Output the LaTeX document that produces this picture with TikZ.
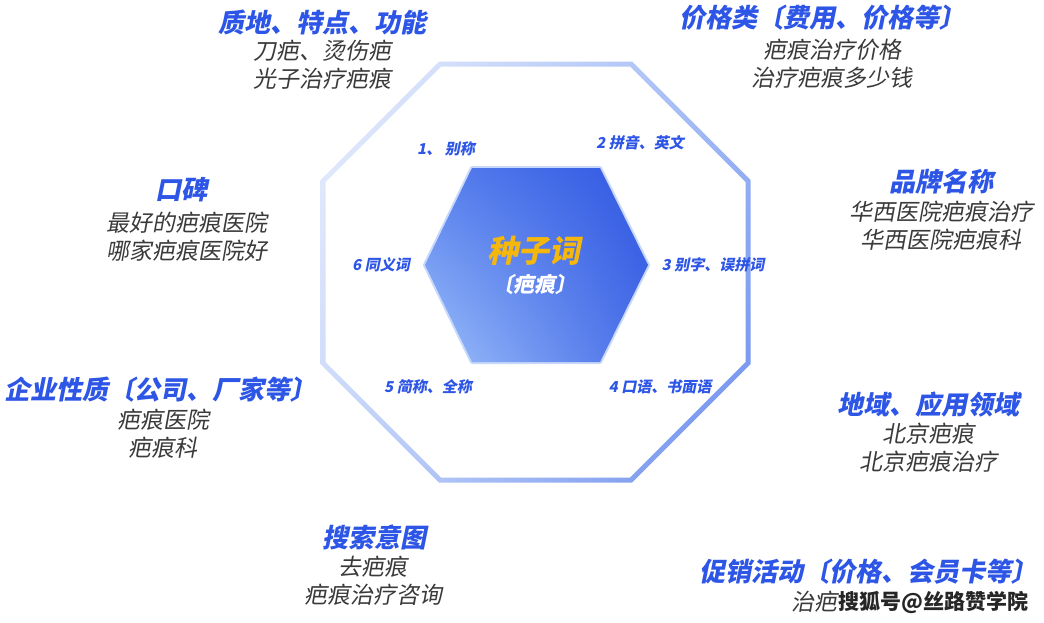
\documentclass[tikz,border=0pt]{standalone}
\usepackage{fontspec}
\usetikzlibrary{shadings}
\setmainfont{Noto Sans CJK SC}
\newfontfamily\hdfont{Noto Sans CJK SC}[FakeSlant=0.2]
\newfontfamily\bdfont{Noto Sans CJK SC}[FakeSlant=0.18]
\definecolor{hblue}{HTML}{2D55E6}
\definecolor{bgray}{HTML}{3A3A3A}
\definecolor{seedy}{HTML}{F6B70C}
\definecolor{octUL}{RGB}{232,239,252}
\definecolor{octUR}{RGB}{160,184,245}
\definecolor{octLL}{RGB}{200,215,249}
\definecolor{octLR}{RGB}{108,142,238}
\definecolor{hexUL}{RGB}{88,128,237}
\definecolor{hexUR}{RGB}{48,86,226}
\definecolor{hexLL}{RGB}{156,192,250}
\definecolor{hexLR}{RGB}{72,110,232}
\definecolor{hexglow}{RGB}{200,216,251}
\begin{document}
\begin{tikzpicture}[x=1pt,y=-1pt,
  hd/.style={font=\hdfont\bfseries\fontsize{26}{30}\selectfont, text=hblue, inner sep=0pt},
  bd/.style={font=\bdfont\fontsize{23}{28}\selectfont, text=bgray, align=center, inner sep=0pt},
  lbl/.style={font=\hdfont\bfseries\fontsize{15}{17}\selectfont, text=hblue, inner sep=0pt},
  wm/.style={font=\bfseries\fontsize{21}{24}\selectfont, text=black!85, inner sep=0pt}]
\useasboundingbox (0,0) rectangle (1044,622);
\fill[white] (0,0) rectangle (1044,622);
% octagon ring with gradient
\shade[even odd rule, upper left=octUL, upper right=octUR, lower left=octLL, lower right=octLR]
  (439,61.5) -- (632,61.5) -- (750.5,180) -- (750.5,364) -- (632,482.5) -- (439,482.5) -- (320.5,364) -- (320.5,180) -- cycle
  (441,66.5) -- (630,66.5) -- (745.5,182) -- (745.5,362) -- (630,477.5) -- (441,477.5) -- (325.5,362) -- (325.5,182) -- cycle;
% hexagon
\draw[line width=4pt, color=hexglow, line join=round]
  (472,168) -- (600,168) -- (648,265) -- (600,362) -- (472,362) -- (425,265) -- cycle;
\shade[upper left=hexUL, upper right=hexUR, lower left=hexLL, lower right=hexLR]
  (472,168) -- (600,168) -- (648,265) -- (600,362) -- (472,362) -- (425,265) -- cycle;
\node[font=\hdfont\bfseries\fontsize{31}{35}\selectfont, text=seedy, inner sep=0pt] (seed) at (534,251) {种子词};
\node[font=\hdfont\bfseries\fontsize{21}{24}\selectfont, text=white, inner sep=0pt] (seedsub) at (534,285) {〔疤痕〕};
% inner labels
\node[lbl] (l1) at (446,149) {1、 别称};
\node[lbl] (l2) at (640,143) {2 拼音、英文};
\node[lbl] (l3) at (713,265) {3 别字、误拼词};
\node[lbl] (l4) at (660,387) {4 口语、书面语};
\node[lbl] (l5) at (428,387) {5 简称、全称};
\node[lbl] (l6) at (381,265) {6 同义词};
% outer groups
\node[hd] (h1) at (322,22) {质地、特点、功能};
\node[bd] (b1) at (322,65) {刀疤、烫伤疤\\光子治疗疤痕};
\node[hd] (h2) at (822,18) {价格类〔费用、价格等〕};
\node[bd] (b2) at (832,64) {疤痕治疗价格\\治疗疤痕多少钱};
\node[hd] (h3) at (181,190) {口碑};
\node[bd] (b3) at (187,237) {最好的疤痕医院\\哪家疤痕医院好};
\node[hd] (h4) at (941,182) {品牌名称};
\node[bd] (b4) at (941,226) {华西医院疤痕治疗\\华西医院疤痕科};
\node[hd] (h5) at (161,390) {企业性质〔公司、厂家等〕};
\node[bd] (b5) at (163,434) {疤痕医院\\疤痕科};
\node[hd] (h6) at (928,405) {地域、应用领域};
\node[bd] (b6) at (928,448) {北京疤痕\\北京疤痕治疗};
\node[hd] (h7) at (374,537) {搜索意图};
\node[bd] (b7) at (373,581) {去疤痕\\疤痕治疗咨询};
\node[hd] (h8) at (868,572) {促销活动〔价格、会员卡等〕};
\node[bd, anchor=east] (b8) at (838,602) {治疤};
\node[wm, anchor=west] (b8w) at (b8.east) {搜狐号@丝路赞学院};
\end{tikzpicture}
\end{document}
